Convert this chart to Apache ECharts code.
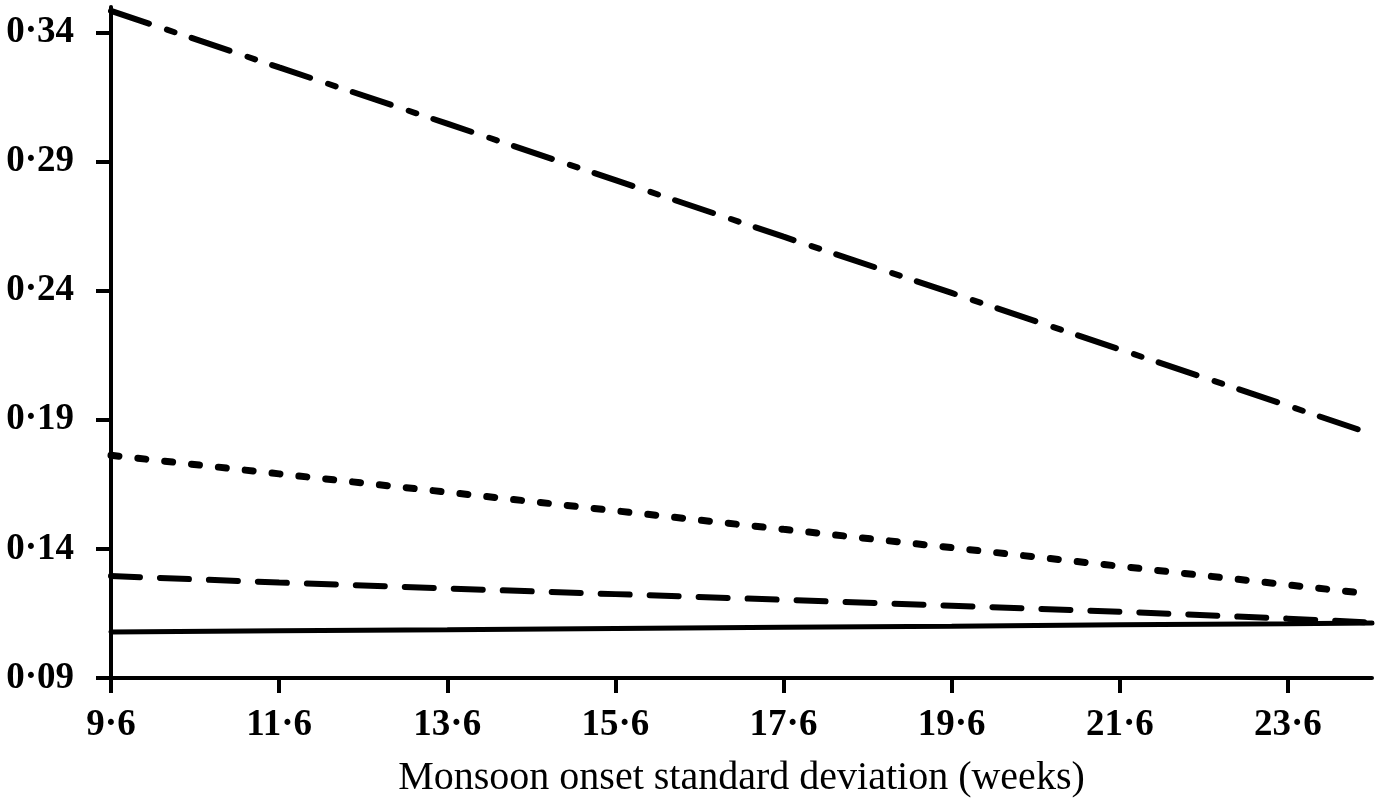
<!DOCTYPE html>
<html>
<head>
<meta charset="utf-8">
<script src="https://cdn.jsdelivr.net/npm/echarts@6/dist/echarts.min.js"></script>
<style>
html, body { margin: 0; padding: 0; background: #fff; }
#chart { width: 1397px; height: 801px; }
</style>
</head>
<body>
<div id="chart"></div>
<script>
// x positions (weeks)
var xValues = [9.6, 11.6, 13.6, 15.6, 17.6, 19.6, 21.6, 23.6, 24.6];
var xTicks = [9.6, 11.6, 13.6, 15.6, 17.6, 19.6, 21.6, 23.6];
var yTicks = [0.09, 0.14, 0.19, 0.24, 0.29, 0.34];

// series
var dashDot = [0.3485, 0.3266, 0.3048, 0.2829, 0.2610, 0.2392, 0.2173, 0.1955, 0.1845];
var dotted  = [0.1763, 0.1691, 0.1620, 0.1548, 0.1476, 0.1405, 0.1333, 0.1261, 0.1225];
var dashed  = [0.1295, 0.1270, 0.1247, 0.1225, 0.1203, 0.1180, 0.1157, 0.1130, 0.1115];
var solid   = [0.1078, 0.1083, 0.1087, 0.1092, 0.1097, 0.1101, 0.1106, 0.1110, 0.1113];

function pairs(ys) {
    return xValues.map(function (x, i) { return [x, ys[i]]; });
}
function dotFmt(v, d) {
    return v.toFixed(d).replace('.', '\u00b7');
}

var font = '"Liberation Serif", "DejaVu Serif", serif';

function line(data, type, width) {
    return {
        type: 'line',
        data: pairs(data),
        showSymbol: false,
        symbol: 'none',
        silent: true,
        lineStyle: { color: '#000', width: width, type: type, cap: 'round' }
    };
}

var chart = echarts.init(document.getElementById('chart'));
chart.setOption({
    animation: false,
    backgroundColor: '#fff',
    grid: {
        left: 111,
        right: 25,
        top: 7,
        bottom: 123,
        containLabel: false,
        outerBoundsMode: 'none'
    },
    xAxis: {
        type: 'value',
        min: 9.6,
        max: 24.6,
        name: 'Monsoon onset standard deviation (weeks)',
        nameLocation: 'middle',
        nameGap: 80,
        nameTextStyle: { fontFamily: font, fontSize: 40, color: '#000' },
        axisLine: { onZero: false, lineStyle: { color: '#000', width: 4 } },
        axisTick: { customValues: xTicks, length: 15, lineStyle: { color: '#000', width: 4 } },
        axisLabel: {
            customValues: xTicks,
            margin: 29,
            fontFamily: font,
            fontWeight: 'bold',
            fontSize: 37,
            color: '#000',
            formatter: function (v) { return dotFmt(v, 1); }
        },
        splitLine: { show: false }
    },
    yAxis: {
        type: 'value',
        min: 0.09,
        max: 0.35,
        axisLine: { onZero: false, lineStyle: { color: '#000', width: 4 } },
        axisTick: { customValues: yTicks, length: 15, lineStyle: { color: '#000', width: 4 } },
        axisLabel: {
            customValues: yTicks,
            margin: 37,
            fontFamily: font,
            fontWeight: 'bold',
            fontSize: 37,
            color: '#000',
            formatter: function (v) { return dotFmt(v, 2); }
        },
        splitLine: { show: false }
    },
    series: [
        line(dashDot, [40, 19, 8, 18], 6),
        line(dotted, [8, 19], 7),
        line(dashed, [29, 20], 6),
        line(solid, 'solid', 5)
    ]
});
</script>
</body>
</html>
